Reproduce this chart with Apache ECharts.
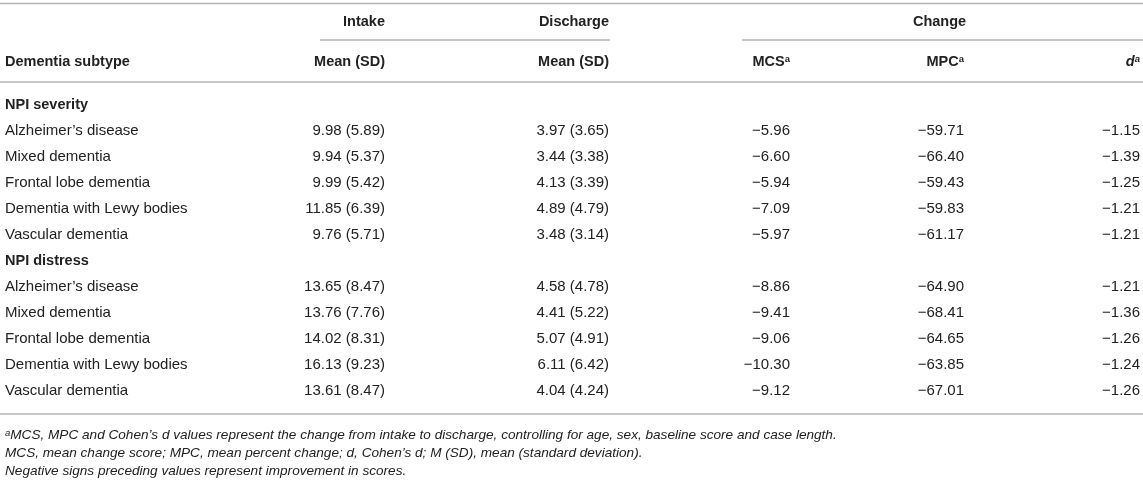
<!DOCTYPE html>
<html><head><meta charset="utf-8">
<script src="https://cdn.jsdelivr.net/npm/echarts@6/dist/echarts.min.js"></script>
<style>html,body{margin:0;padding:0;background:#fff}#c{width:1143px;height:483px}</style>
</head><body><div id="c"></div>
<script>
// ---------- DATA ----------
const subtypes = ["Alzheimer\u2019s disease", "Mixed dementia", "Frontal lobe dementia", "Dementia with Lewy bodies", "Vascular dementia"];
const groupNames = ["NPI severity", "NPI distress"];
const spanHeaders = ["Intake", "Discharge", "Change"];
const columnHeaders = ["Dementia subtype", "Mean (SD)", "Mean (SD)", "{b|MCS}{sup|a}", "{b|MPC}{sup|a}", "{bi|d}{supi|a}"];

const severityIntakeMean = [9.98, 9.94, 9.99, 11.85, 9.76];
const severityIntakeSD   = [5.89, 5.37, 5.42, 6.39, 5.71];
const severityDischMean  = [3.97, 3.44, 4.13, 4.89, 3.48];
const severityDischSD    = [3.65, 3.38, 3.39, 4.79, 3.14];
const severityMCS        = [-5.96, -6.60, -5.94, -7.09, -5.97];
const severityMPC        = [-59.71, -66.40, -59.43, -59.83, -61.17];
const severityD          = [-1.15, -1.39, -1.25, -1.21, -1.21];

const distressIntakeMean = [13.65, 13.76, 14.02, 16.13, 13.61];
const distressIntakeSD   = [8.47, 7.76, 8.31, 9.23, 8.47];
const distressDischMean  = [4.58, 4.41, 5.07, 6.11, 4.04];
const distressDischSD    = [4.78, 5.22, 4.91, 6.42, 4.24];
const distressMCS        = [-8.86, -9.41, -9.06, -10.30, -9.12];
const distressMPC        = [-64.90, -68.41, -64.65, -63.85, -67.01];
const distressD          = [-1.21, -1.36, -1.26, -1.24, -1.26];

const footnotes = [
  "{sup|a}MCS, MPC and Cohen\u2019s d values represent the change from intake to discharge, controlling for age, sex, baseline score and case length.",
  "MCS, mean change score; MPC, mean percent change; d, Cohen\u2019s d; M (SD), mean (standard deviation).",
  "Negative signs preceding values represent improvement in scores."
];

// ---------- LAYOUT / STYLE ----------
const W = 1143, H = 483;
const L = {
  leftX: 5,
  colRight: [385, 609, 790, 964, 1140],
  spanRight: [385, 609],
  spanRules: [[320, 610], [742, 1143]],
  topRuleY: 3.5, spanY: 22, spanRuleY: 40, headerY: 62, headerRuleY: 82,
  firstRowY: 105, rowStep: 26, bottomRuleY: 414, footY: 435, footStep: 18
};
const FONT = '"Liberation Sans", Arial, Helvetica, sans-serif';
const TEXT = '#222';
const RULE = '#b4b4b4';
const BODY_SIZE = 15, BOLD_SIZE = 14.5, FOOT_SIZE = 13.6;

const fmtMSD = (m, s) => m.toFixed(2) + ' (' + s.toFixed(2) + ')';
const fmtNeg = v => (v < 0 ? '\u2212' : '') + Math.abs(v).toFixed(2);

const groups = [
  [severityIntakeMean, severityIntakeSD, severityDischMean, severityDischSD, severityMCS, severityMPC, severityD],
  [distressIntakeMean, distressIntakeSD, distressDischMean, distressDischSD, distressMCS, distressMPC, distressD]
];

// ---------- CELLS ----------
const cells = [];
spanHeaders.forEach((t, i) => {
  if (i < 2) cells.push({ x: L.spanRight[i], y: L.spanY, text: t, align: 'right', kind: 'bold' });
  else cells.push({ x: (L.spanRules[1][0] + L.spanRules[1][1]) / 2 - 3, y: L.spanY, text: t, align: 'center', kind: 'bold' });
});
columnHeaders.forEach((t, i) => cells.push({ x: i === 0 ? L.leftX : L.colRight[i - 1], y: L.headerY, text: t, align: i === 0 ? 'left' : 'right', kind: 'header' }));
groups.forEach((g, gi) => {
  const baseY = L.firstRowY + gi * 6 * L.rowStep;
  cells.push({ x: L.leftX, y: baseY, text: groupNames[gi], align: 'left', kind: 'bold' });
  subtypes.forEach((s, k) => {
    const y = baseY + (k + 1) * L.rowStep;
    const vals = [s, fmtMSD(g[0][k], g[1][k]), fmtMSD(g[2][k], g[3][k]), fmtNeg(g[4][k]), fmtNeg(g[5][k]), fmtNeg(g[6][k])];
    vals.forEach((v, c) => cells.push({ x: c === 0 ? L.leftX : L.colRight[c - 1], y, text: v, align: c === 0 ? 'left' : 'right', kind: 'body' }));
  });
});
footnotes.forEach((t, i) => cells.push({ x: L.leftX, y: L.footY + i * L.footStep, text: t, align: 'left', kind: 'foot' }));

const rules = [
  [0, W, L.topRuleY],
  [L.spanRules[0][0], L.spanRules[0][1], L.spanRuleY],
  [L.spanRules[1][0], L.spanRules[1][1], L.spanRuleY],
  [0, W, L.headerRuleY],
  [0, W, L.bottomRuleY]
];

const styles = {
  body: { font: BODY_SIZE + 'px ' + FONT, fill: TEXT },
  bold: { font: 'bold ' + BOLD_SIZE + 'px ' + FONT, fill: TEXT },
  header: {
    font: 'bold ' + BOLD_SIZE + 'px ' + FONT, fill: TEXT,
    rich: {
      b: { fontFamily: FONT, fontSize: BOLD_SIZE, fontWeight: 'bold', fill: TEXT },
      bi: { fontFamily: FONT, fontSize: BOLD_SIZE, fontWeight: 'bold', fontStyle: 'italic', fill: TEXT },
      sup: { fontFamily: FONT, fontSize: 9.5, fontWeight: 'bold', verticalAlign: 'top', fill: TEXT },
      supi: { fontFamily: FONT, fontSize: 9.5, fontWeight: 'bold', fontStyle: 'italic', verticalAlign: 'top', fill: TEXT }
    }
  },
  foot: {
    font: 'italic ' + FOOT_SIZE + 'px ' + FONT, fill: TEXT,
    rich: { sup: { fontFamily: FONT, fontSize: 9.5, fontStyle: 'italic', verticalAlign: 'top', fill: TEXT } }
  }
};

const chart = echarts.init(document.getElementById('c'));
chart.setOption({
  animation: false,
  backgroundColor: '#fff',
  grid: { left: 0, right: 0, top: 0, bottom: 0 },
  xAxis: { type: 'value', min: 0, max: W, show: false },
  yAxis: { type: 'value', min: 0, max: H, inverse: true, show: false },
  series: [
    {
      type: 'custom', silent: true,
      data: rules.map(r => [r[0], r[2], r[1]]),
      renderItem: (params, api) => {
        const a = api.coord([api.value(0), api.value(1)]);
        const b = api.coord([api.value(2), api.value(1)]);
        return { type: 'line', shape: { x1: a[0], y1: a[1], x2: b[0], y2: b[1] }, style: { stroke: RULE, lineWidth: 1.5 } };
      }
    },
    {
      type: 'custom', silent: true,
      data: cells.map(c => [c.x, c.y]),
      renderItem: (params, api) => {
        const c = cells[params.dataIndex];
        const p = api.coord([api.value(0), api.value(1)]);
        const style = Object.assign({ text: c.text, align: c.align, verticalAlign: 'middle' }, styles[c.kind]);
        return { type: 'text', x: p[0], y: p[1], style };
      }
    }
  ]
});
</script></body></html>
